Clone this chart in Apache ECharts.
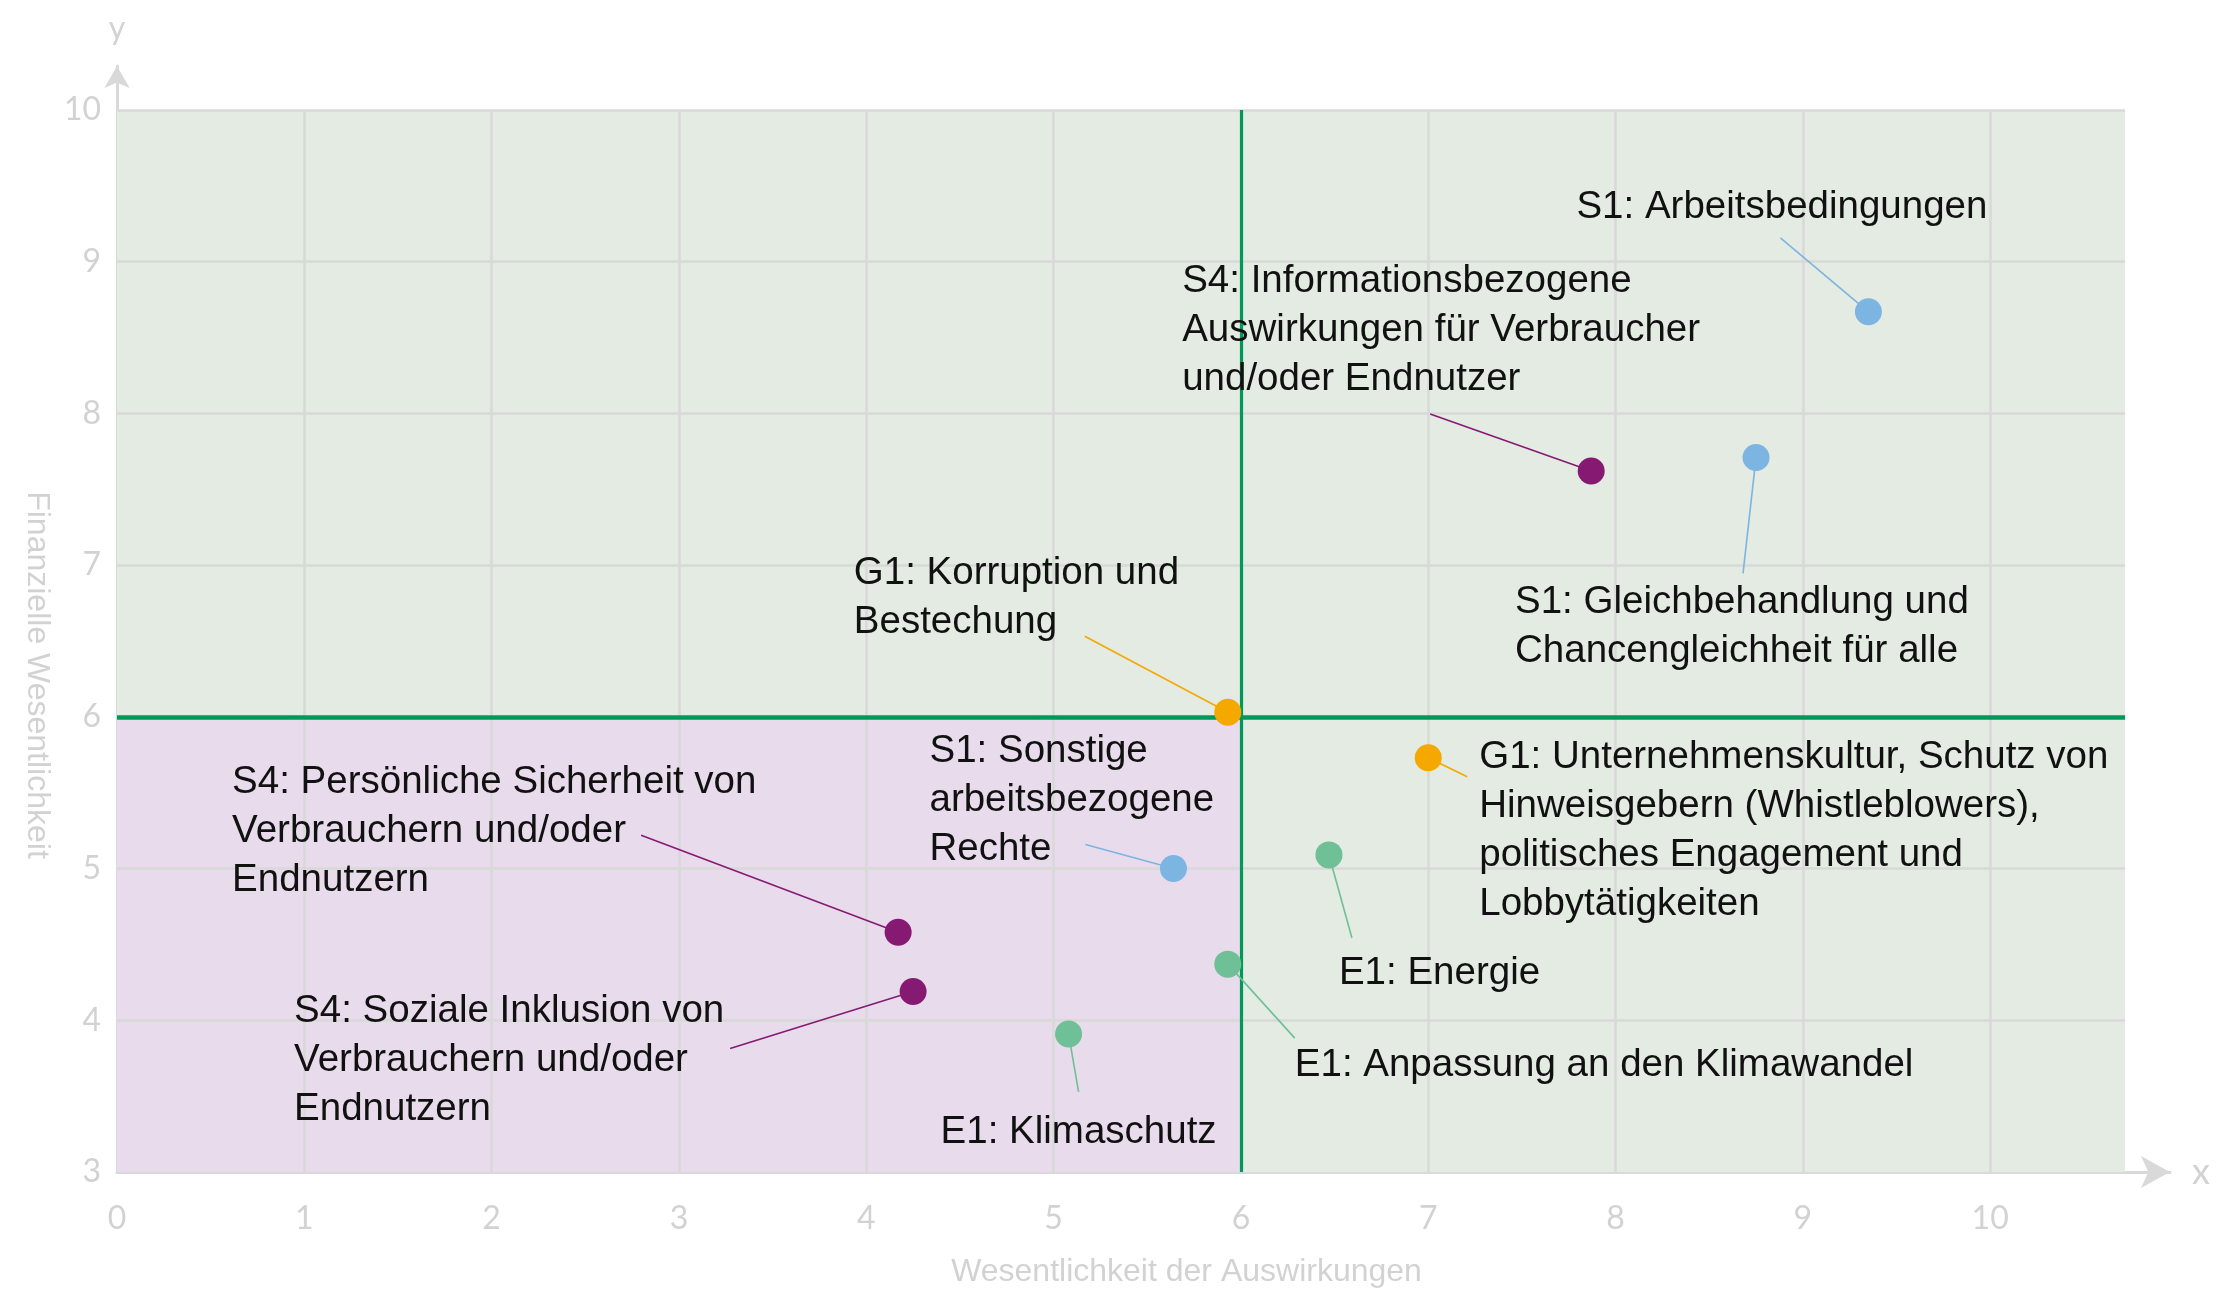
<!DOCTYPE html>
<html>
<head>
<meta charset="utf-8">
<title>Wesentlichkeitsmatrix</title>
<script src="https://cdn.jsdelivr.net/npm/echarts@6/dist/echarts.min.js"></script>
<style>
  html, body { margin: 0; padding: 0; background: #fff; }
  #chart { width: 2237px; height: 1293px; }
</style>
</head>
<body>
<div id="chart"></div>
<script>
// Achsen
const xTicks = [0, 1, 2, 3, 4, 5, 6, 7, 8, 9, 10];
const yTicks = [3, 4, 5, 6, 7, 8, 9, 10];
const threshold = 6;       // Wesentlichkeitsschwelle auf beiden Achsen
const plotEndX = 10.72;    // Ende der Hintergrundfläche

// Themen (x = Wesentlichkeit der Auswirkungen, y = finanzielle Wesentlichkeit)
const topics = [
  'S1: Arbeitsbedingungen',
  'S1: Gleichbehandlung und\nChancengleichheit für alle',
  'S4: Informationsbezogene\nAuswirkungen für Verbraucher\nund/oder Endnutzer',
  'G1: Korruption und\nBestechung',
  'G1: Unternehmenskultur, Schutz von\nHinweisgebern (Whistleblowers),\npolitisches Engagement und\nLobbytätigkeiten',
  'E1: Energie',
  'S1: Sonstige\narbeitsbezogene\nRechte',
  'E1: Anpassung an den Klimawandel',
  'S4: Persönliche Sicherheit von\nVerbrauchern und/oder\nEndnutzern',
  'S4: Soziale Inklusion von\nVerbrauchern und/oder\nEndnutzern',
  'E1: Klimaschutz'
];
const topicGroup = ['S1', 'S1', 'S4', 'G1', 'G1', 'E1', 'S1', 'E1', 'S4', 'S4', 'E1'];
const impactScore = [9.35, 8.75, 7.87, 5.93, 7.00, 6.47, 5.64, 5.93, 4.17, 4.25, 5.08];
const financialScore = [8.67, 7.71, 7.62, 6.03, 5.73, 5.09, 5.00, 4.37, 4.58, 4.19, 3.91];

const groups = ['S1', 'S4', 'G1', 'E1'];
const groupColor = { S1: '#7cb4e2', S4: '#861a73', G1: '#f5a800', E1: '#6fbf97' };

// Beschriftungs-Layout in Pixeln relativ zum Punkt: [links, Mitte erste Zeile]
const labelOffset = [
  [-292, -104], [-241, 145], [-409, -190], [-374, -139], [51, 0], [10, 118],
  [-244, -117], [67, 101], [-666, -150], [-619, 20], [-128, 98]
];
// äußeres Ende der Führungslinie
const leaderEnd = [
  [-88, -74], [-13, 116], [-161, -57], [-143, -76], [39, 19], [23, 83],
  [-88, -24], [67, 74], [-257, -97], [-183, 57], [10, 58]
];

const LINE_H = 49;
const gridColor = '#d9d9d9';
const greenLine = '#00995a';
const axisTextColor = '#d2d2d2';

const chart = echarts.init(document.getElementById('chart'));

const vGrid = xTicks.filter(v => v > 0).map(v => [{ coord: [v, 3] }, { coord: [v, 10] }]);
const hGrid = yTicks.filter(v => v > 3).map(v => [{ coord: [0, v] }, { coord: [plotEndX, v] }]);

const pointSeries = groups.map(g => ({
  name: g,
  type: 'scatter',
  z: 10,
  symbolSize: 27,
  itemStyle: { color: groupColor[g], opacity: 1 },
  data: impactScore.map((x, i) => [x, financialScore[i], i]).filter(d => topicGroup[d[2]] === g)
}));

const option = {
  animation: false,
  grid: { left: 117, right: 67, top: 66, bottom: 120 },
  xAxis: [{
    type: 'value',
    min: 0,
    max: 10.96,
    interval: 1,
    name: 'Wesentlichkeit der Auswirkungen',
    nameLocation: 'middle',
    nameGap: 84,
    nameTextStyle: {
      color: axisTextColor, fontSize: 32, fontFamily: 'Liberation Sans',
      padding: [0, 0, 0, 86]
    },
    axisLine: {
      show: true,
      symbol: ['none', 'arrow'],
      symbolSize: [24, 29],
      lineStyle: { color: gridColor, width: 3 }
    },
    axisTick: { show: false },
    splitLine: { show: false },
    axisLabel: {
      margin: 31,
      color: axisTextColor,
      fontSize: 32,
      fontFamily: 'Lato',
      formatter: v => (xTicks.includes(v) ? String(v) : '')
    }
  }, {
    type: 'value',
    position: 'bottom',
    min: 0,
    max: 10.96,
    name: 'x',
    nameLocation: 'end',
    nameGap: 22,
    nameTextStyle: { color: axisTextColor, fontSize: 36, fontFamily: 'Lato' },
    axisLine: { show: false },
    axisTick: { show: false },
    axisLabel: { show: false },
    splitLine: { show: false }
  }],
  yAxis: [{
    type: 'value',
    min: 3,
    max: 10.29,
    interval: 1,
    name: 'Finanzielle Wesentlichkeit',
    nameLocation: 'middle',
    nameRotate: -90,
    nameGap: 62,
    nameTextStyle: {
      color: axisTextColor, fontSize: 32, fontFamily: 'Liberation Sans',
      padding: [0, 0, 0, 112]
    },
    axisLine: {
      show: true,
      symbol: ['none', 'arrow'],
      symbolSize: [19, 22],
      lineStyle: { color: gridColor, width: 3 }
    },
    axisTick: { show: false },
    splitLine: { show: false },
    axisLabel: {
      margin: 16,
      color: axisTextColor,
      fontSize: 32,
      fontFamily: 'Lato',
      formatter: v => (yTicks.includes(v) ? String(v) : '')
    }
  }, {
    type: 'value',
    position: 'left',
    min: 3,
    max: 10.29,
    name: 'y',
    nameLocation: 'end',
    nameGap: 21,
    nameTextStyle: { color: axisTextColor, fontSize: 32, fontFamily: 'Lato' },
    axisLine: { show: false },
    axisTick: { show: false },
    axisLabel: { show: false },
    splitLine: { show: false }
  }],
  series: [
    {
      // Quadranten-Hintergrund
      type: 'scatter',
      z: 1,
      silent: true,
      data: [],
      markArea: {
        silent: true,
        data: [
          [{ coord: [0, threshold], itemStyle: { color: '#e3ebe2' } }, { coord: [plotEndX, 10] }],
          [{ coord: [threshold, 3], itemStyle: { color: '#e3ebe2' } }, { coord: [plotEndX, threshold] }],
          [{ coord: [0, 3], itemStyle: { color: '#e8dcec' } }, { coord: [threshold, threshold] }]
        ]
      }
    },
    {
      // Gitterlinien
      type: 'scatter',
      z: 2,
      silent: true,
      data: [],
      markLine: {
        silent: true,
        symbol: ['none', 'none'],
        label: { show: false },
        lineStyle: { color: gridColor, width: 2.5, type: 'solid' },
        data: vGrid.concat(hGrid)
      }
    },
    {
      // Schwellenlinien
      type: 'scatter',
      z: 3,
      silent: true,
      data: [],
      markLine: {
        silent: true,
        symbol: ['none', 'none'],
        label: { show: false },
        data: [
          [{ coord: [threshold, 3], lineStyle: { color: greenLine, width: 3.2, type: 'solid' } }, { coord: [threshold, 10] }],
          [{ coord: [0, threshold], lineStyle: { color: greenLine, width: 4.5, type: 'solid' } }, { coord: [plotEndX, threshold] }]
        ]
      }
    },
    {
      // Beschriftungen mit Führungslinien
      type: 'custom',
      z: 5,
      silent: true,
      data: impactScore.map((x, i) => [x, financialScore[i], i]),
      renderItem: (params, api) => {
        const i = api.value(2);
        const p = api.coord([api.value(0), api.value(1)]);
        const off = labelOffset[i];
        const end = leaderEnd[i];
        return {
          type: 'group',
          children: [
            {
              type: 'line',
              shape: { x1: p[0] + end[0], y1: p[1] + end[1], x2: p[0], y2: p[1] },
              style: { stroke: groupColor[topicGroup[i]], lineWidth: 1.6 }
            },
            {
              type: 'text',
              x: p[0] + off[0],
              y: p[1] + off[1] - LINE_H / 2,
              style: {
                text: topics[i],
                fill: '#111',
                fontSize: 38.5,
                fontFamily: 'Liberation Sans',
                lineHeight: LINE_H,
                align: 'left',
                verticalAlign: 'top'
              }
            }
          ]
        };
      }
    }
  ].concat(pointSeries)
};

chart.setOption(option);
window.addEventListener('resize', () => chart.resize());
</script>
</body>
</html>
